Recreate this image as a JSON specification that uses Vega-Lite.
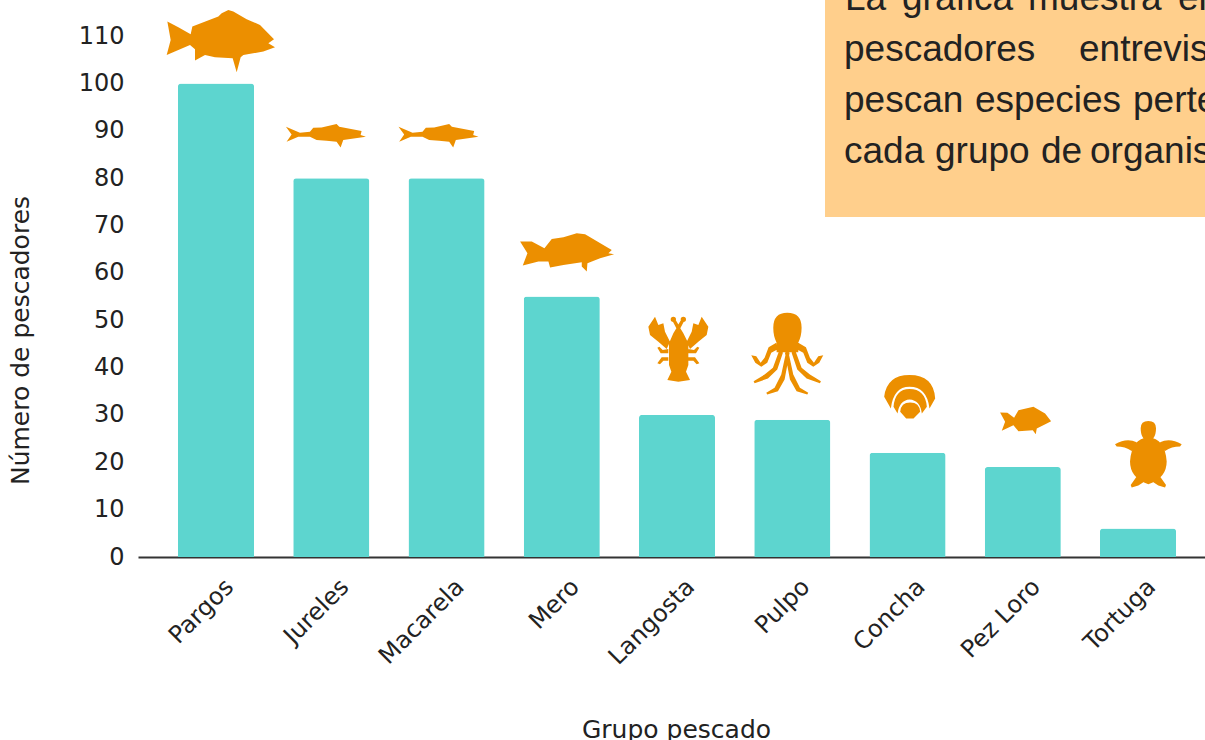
{"$schema":"https://vega.github.io/schema/vega-lite/v6.json","width":1067,"height":557,"autosize":{"type":"none"},"padding":{"left":138,"top":0,"right":0,"bottom":183},"background":"white","config":{"view":{"stroke":null},"font":"DejaVu Sans"},"datasets":{"grupos":[{"Grupo":"Pargos","pescadores":100,"icono":109.2},{"Grupo":"Jureles","pescadores":80,"icono":89.1},{"Grupo":"Macarela","pescadores":80,"icono":89.1},{"Grupo":"Mero","pescadores":55,"icono":64.5},{"Grupo":"Langosta","pescadores":30,"icono":44.07},{"Grupo":"Pulpo","pescadores":29,"icono":42.9},{"Grupo":"Concha","pescadores":22,"icono":33.85},{"Grupo":"Pez Loro","pescadores":19,"icono":28.9},{"Grupo":"Tortuga","pescadores":6,"icono":21.7}],"caja":[{"x0":687,"x1":1067,"y0":71.8,"y1":117.63}],"texto":[{"p":"La","x":707,"y":115.5},{"p":"gráfica","x":764,"y":115.5},{"p":"muestra","x":890,"y":115.5},{"p":"el","x":1040,"y":115.5},{"p":"pescadores","x":706,"y":104.75},{"p":"entrevistados","x":941,"y":104.75},{"p":"pescan","x":706,"y":93.98},{"p":"especies","x":837,"y":93.98},{"p":"pertenecientes","x":995,"y":93.98},{"p":"cada","x":706,"y":83.2},{"p":"grupo","x":797,"y":83.2},{"p":"de","x":903,"y":83.2},{"p":"organismos","x":952,"y":83.2}]},"resolve":{"scale":{"x":"independent"}},"layer":[{"data":{"name":"grupos"},"mark":{"type":"bar","color":"#5DD5CF","cornerRadiusTopLeft":3,"cornerRadiusTopRight":3},"encoding":{"x":{"field":"Grupo","type":"nominal","sort":null,"scale":{"paddingInner":0.34,"paddingOuter":0.299,"align":0.58},"axis":{"title":"Grupo pescado","titleFontSize":25,"titleFont":"DejaVu Sans","titleFontWeight":"normal","titleColor":"#222","titleX":538,"titlePadding":48,"labelFontSize":24,"labelFont":"DejaVu Sans","labelColor":"#222","labelAngle":-45,"labelAlign":"right","labelBaseline":"middle","labelPadding":26,"labelOffset":14,"ticks":false,"domainColor":"#333","domainWidth":2}},"y":{"field":"pescadores","type":"quantitative","scale":{"domain":[0,117.63],"nice":false},"axis":{"title":"Número de pescadores","titleFontSize":25,"titleFont":"DejaVu Sans","titleFontWeight":"normal","titleColor":"#222","titleX":-105,"titleY":340,"values":[0,10,20,30,40,50,60,70,80,90,100,110],"labelFontSize":24,"labelFont":"DejaVu Sans","labelColor":"#222","labelPadding":14,"ticks":false,"domain":false,"grid":false}}}},{"data":{"name":"grupos"},"mark":{"type":"point","filled":true,"size":0.4444,"color":"#EC8F00","opacity":1},"encoding":{"x":{"field":"Grupo","type":"nominal","sort":null,"scale":{"type":"band","paddingInner":0.34,"paddingOuter":0.299,"align":0.58},"axis":null},"y":{"field":"icono","type":"quantitative"},"shape":{"field":"Grupo","type":"nominal","legend":null,"scale":{"domain":["Pargos","Jureles","Macarela","Mero","Langosta","Pulpo","Concha","Pez Loro","Tortuga"],"range":["M-146 -55L-113 -38L-76 -17L-71 -40L7 -70L17 -80L37 -90L52 -85L92 -62L132 -45L174 -2L157 10L177 22L142 35L82 45L74 52L62 97L50 55L-3 52L-33 45L-63 62L-63 28L-78 15L-113 30L-148 45L-136 0Z","M-136 -25L-94 -7L-64 -10L-54 -22L-29 -23L16 -33L24 -25L91 -12L88 0L104 5L36 15L28 37L16 20L-14 17L-44 15L-64 5L-99 5L-134 20L-119 -2Z","M-144 -25L-102 -7L-72 -10L-62 -22L-37 -23L8 -33L16 -25L83 -12L80 0L96 5L28 15L20 37L8 20L-22 17L-52 15L-72 5L-107 5L-142 20L-127 -2Z","M-125 -30L-90 -30L-52 -10L-30 -38L5 -43L45 -55L70 -52L150 -5L140 5L157 8L115 20L77 35L75 60L60 45L60 32L5 40L-35 48L-40 30L-70 30L-117 42L-103 5Z","M4 -70L19 -45L34 -15L34 50L27 70L39 95L4 100L-29 95L-17 70L-24 50L-24 -15L-11 -45ZM74 -95L94 -65L89 -40L64 -20L39 2L29 -20L44 -50L49 -75L64 -70ZM-56 -70L-41 -75L-36 -50L-21 -20L-31 2L-56 -20L-81 -40L-86 -65L-66 -95ZM34 2L51 5L61 -5L67 -2L57 15L34 15ZM-26 15L-49 15L-59 -2L-53 -5L-43 5L-26 2ZM34 27L54 27L67 45L59 48L49 37L34 37ZM-26 37L-41 37L-51 48L-59 45L-46 27L-26 27ZM0 -65L15 -90L23 -85L10 -60ZM-2 -60L-15 -85L-7 -90L8 -65ZM11 -87Q11 -95 19 -95Q27 -95 27 -87Q27 -79 19 -79Q11 -79 11 -87ZM-19 -87Q-19 -95 -11 -95Q-3 -95 -3 -87Q-3 -79 -11 -79Q-19 -79 -19 -87Z","M-57 -78Q-57 -123 -15 -123Q28 -123 28 -78Q28 -53 18 -33L-47 -33Q-57 -53 -57 -78ZM-47 -40L18 -40L18 -5L-47 -5ZM18 -33L41 -20L53 12L65 27L78 7L93 4L81 27L63 39L45 27L33 -3L15 -13ZM-45 -13L-63 -3L-75 27L-93 39L-111 27L-123 4L-108 7L-95 27L-83 12L-71 -20L-48 -33ZM8 -13L28 42L53 62L86 82L83 88L43 74L15 47L-2 -3ZM-28 -3L-45 47L-73 74L-113 88L-116 82L-83 62L-58 42L-38 -13ZM-12 -8L3 62L23 102L48 117L45 122L13 112L-7 77L-22 -3ZM-8 -3L-23 77L-43 112L-75 122L-78 117L-53 102L-33 62L-18 -8Z","M-70 0Q-62 -65 6 -65Q78 -65 83 5L66 35Q58 -30 6 -30Q-42 -30 -50 35ZM-42 30Q-37 -23 6 -23Q53 -23 58 30L43 50Q38 10 6 8Q-24 10 -30 50ZM-22 45Q-20 17 8 17Q36 17 38 45L18 65L-4 65Z","M-68 -23L-46 -22L-26 -7L-13 -30L32 -40L67 -20L85 3L72 10L42 25L39 42L30 30L-13 33L-28 15L-63 32L-53 5Z","M8 -78Q8 -100 31 -100Q54 -100 54 -78Q54 -58 46 -48L16 -48Q8 -58 8 -78ZM31 -50Q81 -48 86 22Q86 72 31 90Q-24 72 -24 22Q-19 -48 31 -50ZM66 -36Q96 -50 131 -30L126 -23Q101 -23 81 -10ZM-19 -10Q-39 -23 -64 -23L-69 -30Q-34 -50 -4 -36ZM66 67L84 92L81 100L61 94L46 84ZM16 84L1 94L-19 100L-22 92L-4 67Z"]}}}},{"data":{"name":"caja"},"mark":{"type":"rect","color":"#FFCF8C","clip":true},"encoding":{"x":{"field":"x0","type":"quantitative","scale":{"domain":[0,1067],"nice":false},"axis":null},"x2":{"field":"x1"},"y":{"field":"y0","type":"quantitative"},"y2":{"field":"y1"}}},{"data":{"name":"texto"},"mark":{"type":"text","font":"Liberation Sans","fontSize":37,"color":"#222","align":"left","baseline":"alphabetic","clip":true},"encoding":{"x":{"field":"x","type":"quantitative","scale":{"domain":[0,1067],"nice":false},"axis":null},"y":{"field":"y","type":"quantitative"},"text":{"field":"p"}}}]}
